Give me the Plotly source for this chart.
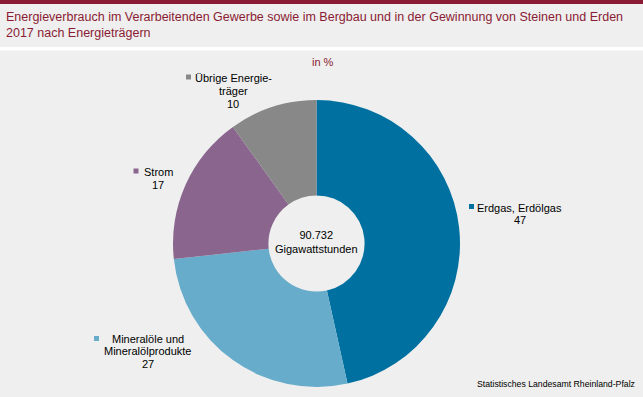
import plotly.graph_objects as go

W, H = 643, 397

categories = ["Erdgas, Erdölgas", "Mineralöle und Mineralölprodukte", "Strom", "Übrige Energieträger"]
label_lines = [["Erdgas, Erdölgas"], ["Mineralöle und", "Mineralölprodukte"], ["Strom"], ["Übrige Energie-", "träger"]]
values = [47, 27, 17, 10]
colors = ["#0070A0", "#67ACCA", "#8A668F", "#888888"]
total_text = "90.732<br>Gigawattstunden"
title_text = ("Energieverbrauch im Verarbeitenden Gewerbe sowie im Bergbau und in der Gewinnung von Steinen und Erden"
              "<br>2017 nach Energieträgern")
unit_text = "in %"
source_text = "Statistisches Landesamt Rheinland-Pfalz"

DARKRED = "#8B1B34"
BG = "#EEEFEE"

def px(x):
    return x / W

def py(y):
    return 1 - y / H

cx, cy, r = 316.5, 243.5, 143.5

fig = go.Figure(go.Pie(
    labels=categories,
    values=values,
    marker=dict(colors=colors, line=dict(width=0)),
    hole=0.335,
    sort=False,
    direction="clockwise",
    rotation=0,
    textinfo="none",
    hoverinfo="label+value",
    domain=dict(x=[px(cx - r), px(cx + r)], y=[py(cy + r), py(cy - r)]),
    showlegend=False,
))

# label layout: text center x, first line y, line step, square x, square y
label_pos = [
    (519.5, 207.5, 13, 471.5, 206.5),
    (147.5, 338.5, 12.8, 96.5, 338.5),
    (158, 172, 13, 136, 171),
    (233, 78, 13, 188.5, 77),
]

ann = []
shapes = []
FONT = "Liberation Sans, Arial"
for i, (tx, ty, step, sx, sy) in enumerate(label_pos):
    lines = label_lines[i] + [str(values[i])]
    for j, line in enumerate(lines):
        ann.append(dict(
            x=px(tx), y=py(ty + j * step), xref="paper", yref="paper",
            text=line, showarrow=False,
            xanchor="center", yanchor="middle", align="center",
            font=dict(family=FONT, size=11, color="#000000"),
        ))
    shapes.append(dict(type="rect", xref="paper", yref="paper",
                       x0=px(sx - 2.5), x1=px(sx + 2.5), y0=py(sy + 2.5), y1=py(sy - 2.5),
                       fillcolor=colors[i], line=dict(width=0)))

ann.append(dict(x=px(cx), y=py(242), xref="paper", yref="paper", text=total_text,
                showarrow=False, xanchor="center", yanchor="middle", align="center",
                font=dict(family=FONT, size=11, color="#000000")))
ann.append(dict(x=px(4), y=py(24.5), xref="paper", yref="paper", text=title_text,
                showarrow=False, xanchor="left", yanchor="middle", align="left",
                font=dict(family=FONT, size=12.5, color=DARKRED)))
ann.append(dict(x=px(322.5), y=py(62), xref="paper", yref="paper", text=unit_text,
                showarrow=False, xanchor="center", yanchor="middle",
                font=dict(family=FONT, size=11, color=DARKRED)))
ann.append(dict(x=px(637), y=py(384), xref="paper", yref="paper", text=source_text,
                showarrow=False, xanchor="right", yanchor="middle",
                font=dict(family=FONT, size=8.7, color="#000000")))

shapes.append(dict(type="rect", xref="paper", yref="paper", x0=0, x1=1, y0=py(4), y1=1,
                   fillcolor=DARKRED, line=dict(width=0)))
shapes.append(dict(type="rect", xref="paper", yref="paper", x0=0, x1=1, y0=py(50.5), y1=py(47),
                   fillcolor="#FFFFFF", line=dict(width=0)))

fig.update_layout(
    width=W, height=H,
    margin=dict(l=0, r=0, t=0, b=0),
    paper_bgcolor=BG, plot_bgcolor=BG,
    annotations=ann, shapes=shapes,
)

fig.write_html("out.html", config={"displayModeBar": False},
               post_script="document.body.style.margin='0';document.body.style.background='" + BG + "';")
